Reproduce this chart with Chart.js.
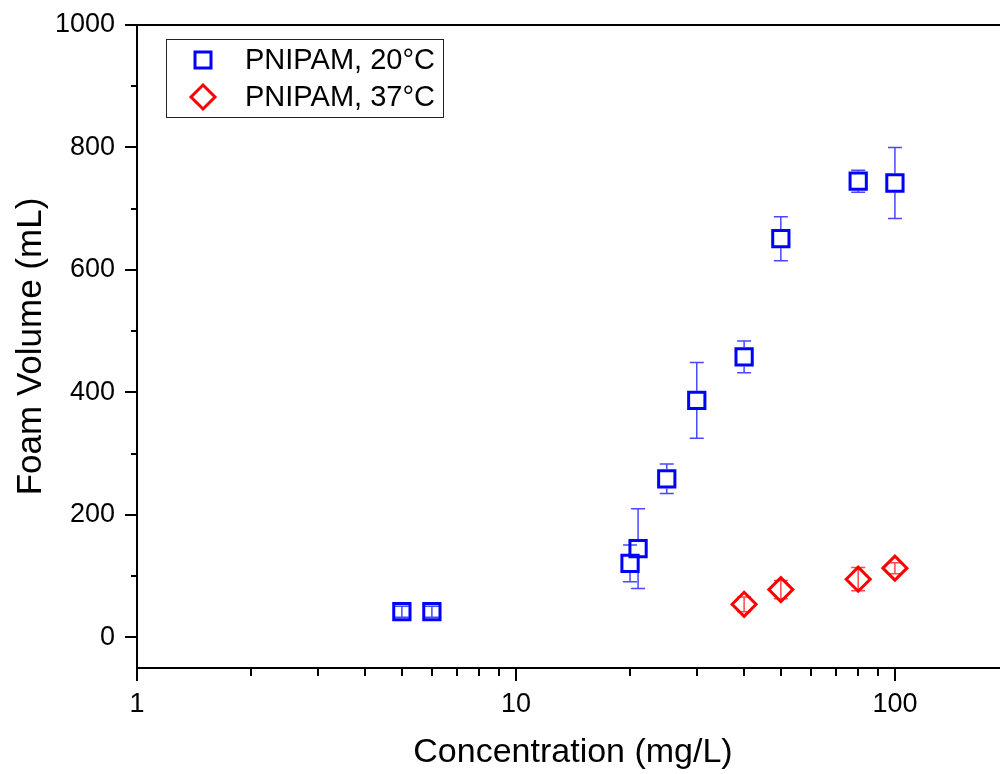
<!DOCTYPE html>
<html>
<head>
<meta charset="utf-8">
<script src="https://cdn.jsdelivr.net/npm/chart.js@4.4.0/dist/chart.umd.min.js"></script>
<style>
  html, body { margin: 0; padding: 0; background: #fff; overflow: hidden; }
  #wrap { width: 1024px; height: 774px; }
</style>
</head>
<body>
<div id="wrap"><canvas id="chart" width="1024" height="774"></canvas></div>
<script>
// values
const seriesNames = ['PNIPAM, 20°C', 'PNIPAM, 37°C'];

const blueConc = [5, 6, 20, 21, 25, 30, 40, 50, 80, 100];
const blueVol  = [42, 42, 121, 145, 259, 387, 458, 651, 745, 742];
const blueErr  = [9, 9, 30, 65, 24, 62, 26, 36, 18, 58];

const redConc = [40, 50, 80, 100];
const redVol  = [54, 78, 95, 113];
const redErr  = [12, 15, 19, 9];

const xMajorTicks = [1, 10, 100];
const xMinorTicks = [2, 3, 4, 5, 6, 7, 8, 9, 20, 30, 40, 50, 60, 70, 80, 90, 200];
const yMajorTicks = [0, 200, 400, 600, 800, 1000];
const yMinorTicks = [100, 300, 500, 700, 900];

const FONT = "'Liberation Sans', Arial, sans-serif";

const toPoints = (xs, ys, errs) => xs.map((x, i) => ({x: x, y: ys[i], err: errs[i]}));

// vertical error bars, drawn through the chart scales.
// like Origin, the stem is left out inside the (hollow) symbol
const errorBars = {
  id: 'errorBars',
  beforeDatasetsDraw(chart) {
    const ctx = chart.ctx;
    const xs = chart.scales.x, ys = chart.scales.y;
    chart.data.datasets.forEach(ds => {
      const half = (ds.pointStyle === 'rect' ? ds.pointRadius * Math.SQRT1_2 : ds.pointRadius) + 1.5;
      ctx.save();
      ctx.strokeStyle = ds.errColor;
      ctx.lineWidth = 1.5;
      ds.data.forEach(p => {
        const px = xs.getPixelForValue(p.x);
        const py = ys.getPixelForValue(p.y);
        const top = ys.getPixelForValue(p.y + p.err);
        const bot = ys.getPixelForValue(p.y - p.err);
        ctx.beginPath();
        if (py - top <= half) {
          ctx.moveTo(px, top); ctx.lineTo(px, bot);
        } else {
          ctx.moveTo(px, top); ctx.lineTo(px, py - half);
          ctx.moveTo(px, py + half); ctx.lineTo(px, bot);
        }
        ctx.moveTo(px - 7, top); ctx.lineTo(px + 7, top);
        ctx.moveTo(px - 7, bot); ctx.lineTo(px + 7, bot);
        ctx.stroke();
      });
      ctx.restore();
    });
  }
};

// outward ticks (major and minor), x tick labels, top frame line
const frame = {
  id: 'frame',
  afterDraw(chart) {
    const ctx = chart.ctx;
    const a = chart.chartArea;
    const xs = chart.scales.x, ys = chart.scales.y;
    ctx.save();
    ctx.strokeStyle = '#000';
    ctx.lineWidth = 2;
    ctx.beginPath();
    ctx.moveTo(a.left - 1, a.top); ctx.lineTo(a.right + 1, a.top);
    ctx.moveTo(a.right, a.top); ctx.lineTo(a.right, a.bottom);
    xMajorTicks.forEach(v => {
      const px = Math.round(xs.getPixelForValue(v));
      ctx.moveTo(px, a.bottom); ctx.lineTo(px, a.bottom + 13);
    });
    xMinorTicks.forEach(v => {
      const px = Math.round(xs.getPixelForValue(v));
      ctx.moveTo(px, a.bottom); ctx.lineTo(px, a.bottom + 8);
    });
    yMajorTicks.forEach(v => {
      const py = Math.round(ys.getPixelForValue(v));
      ctx.moveTo(a.left, py); ctx.lineTo(a.left - 12, py);
    });
    yMinorTicks.forEach(v => {
      const py = Math.round(ys.getPixelForValue(v));
      ctx.moveTo(a.left, py); ctx.lineTo(a.left - 6, py);
    });
    ctx.stroke();

    ctx.fillStyle = '#000';
    ctx.font = '27px ' + FONT;
    ctx.textAlign = 'center';
    ctx.textBaseline = 'middle';
    xMajorTicks.forEach(v => {
      ctx.fillText(String(v), xs.getPixelForValue(v), a.bottom + 37);
    });
    ctx.restore();
  }
};

// boxed legend in the upper left of the plot
const boxLegend = {
  id: 'boxLegend',
  afterDraw(chart) {
    const ctx = chart.ctx;
    const a = chart.chartArea;
    const bx = a.left + 29, by = a.top + 14;
    ctx.save();
    ctx.strokeStyle = '#222';
    ctx.lineWidth = 1;
    ctx.strokeRect(bx + 0.5, by + 0.5, 277, 78);
    ctx.font = '29px ' + FONT;
    ctx.textBaseline = 'middle';
    ctx.fillStyle = '#000';
    chart.data.datasets.forEach((ds, i) => {
      const cy = by + 21 + i * 37;
      const cx = bx + 37;
      ctx.strokeStyle = ds.borderColor;
      ctx.lineWidth = 3;
      ctx.beginPath();
      if (ds.pointStyle === 'rect') {
        ctx.rect(cx - 8, cy - 8, 16, 16);
      } else {
        ctx.moveTo(cx, cy - 12); ctx.lineTo(cx + 12, cy);
        ctx.lineTo(cx, cy + 12); ctx.lineTo(cx - 12, cy);
        ctx.closePath();
      }
      ctx.stroke();
      ctx.fillText(ds.label, bx + 79, cy + 1);
    });
    ctx.restore();
  }
};

new Chart(document.getElementById('chart'), {
  type: 'scatter',
  data: {
    datasets: [
      {
        label: seriesNames[0],
        data: toPoints(blueConc, blueVol, blueErr),
        pointStyle: 'rect',
        pointRadius: 11.5,
        borderWidth: 3,
        borderColor: '#0000ff',
        backgroundColor: 'rgba(0,0,0,0)',
        errColor: 'rgba(40,40,255,0.85)'
      },
      {
        label: seriesNames[1],
        data: toPoints(redConc, redVol, redErr),
        pointStyle: 'rectRot',
        pointRadius: 12,
        borderWidth: 3,
        borderColor: '#ff0000',
        backgroundColor: 'rgba(0,0,0,0)',
        errColor: 'rgba(255,40,40,0.85)'
      }
    ]
  },
  options: {
    responsive: false,
    animation: false,
    // canvas is wider than the picture: the x axis runs on to 200 past the right edge
    layout: { padding: { top: 25, right: 0, left: 0, bottom: 0 } },
    plugins: { legend: { display: false }, tooltip: { enabled: false } },
    scales: {
      x: {
        type: 'logarithmic',
        min: 1,
        max: 200,
        afterFit: s => { s.height = 106; s.paddingLeft = 0; s.paddingRight = 0; },
        afterBuildTicks: s => { s.ticks = xMajorTicks.map(v => ({value: v})); },
        grid: { display: false, drawTicks: false },
        border: { display: true, color: '#000', width: 2 },
        ticks: { display: false },
        title: {
          display: true,
          text: 'Concentration (mg/L)',
          color: '#000',
          font: { family: FONT, size: 34 },
          padding: { top: 0, bottom: 1 }
        }
      },
      y: {
        min: -50,
        max: 1000,
        afterFit: s => { s.width = 137; s.paddingTop = 0; s.paddingBottom = 0; },
        afterBuildTicks: s => { s.ticks = yMajorTicks.map(v => ({value: v})); },
        grid: { display: false, drawTicks: false },
        border: { display: true, color: '#000', width: 2 },
        ticks: {
          color: '#000',
          font: { family: FONT, size: 27 },
          padding: 22,
          callback: v => String(v)
        },
        title: {
          display: true,
          text: 'Foam Volume (mL)',
          color: '#000',
          font: { family: FONT, size: 35 },
          padding: { top: 10, bottom: 0 }
        }
      }
    }
  },
  plugins: [errorBars, frame, boxLegend]
});
</script>
</body>
</html>
